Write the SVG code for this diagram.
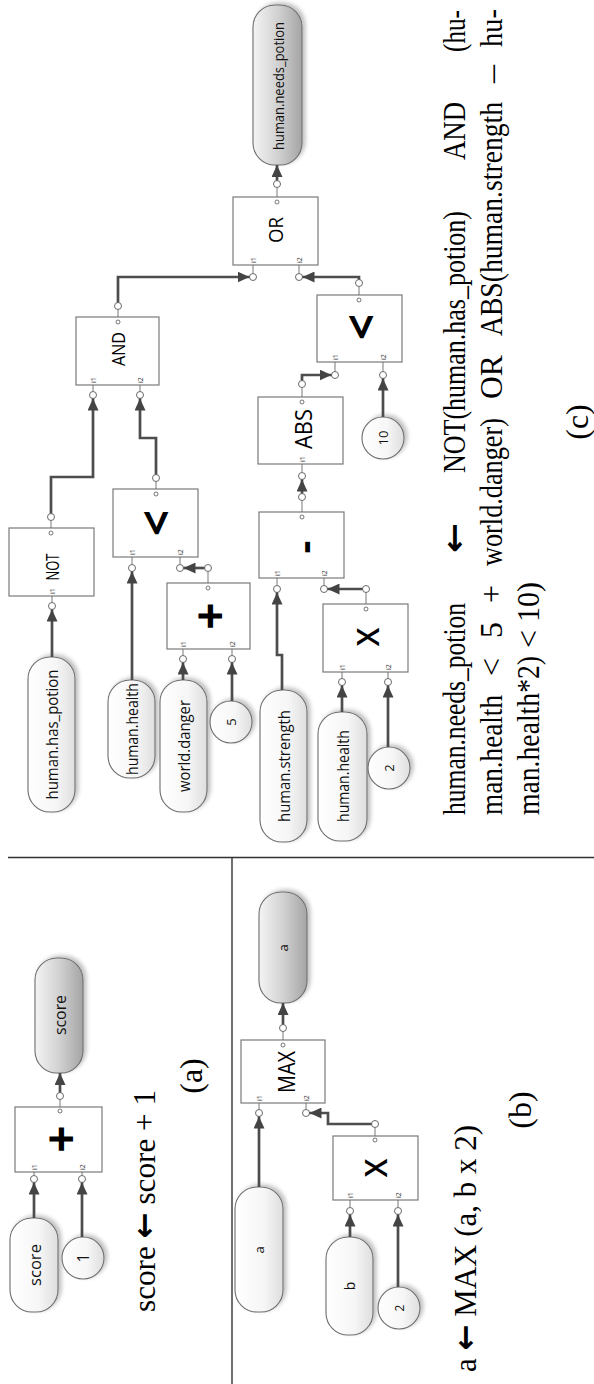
<svg xmlns="http://www.w3.org/2000/svg" width="594" height="1384" viewBox="0 0 594 1384">
  <style>
    .bg { fill: #ffffff; }
    .sep { stroke: #333333; stroke-width: 1.4; fill: none; }
    .box { fill: #ffffff; stroke: #7a7a7a; stroke-width: 1.2; }
    .pin { fill: url(#gIn); stroke: #6e6e6e; stroke-width: 1.1; filter: url(#sh); }
    .pout { fill: url(#gOut); stroke: #6e6e6e; stroke-width: 1.1; filter: url(#sh); }
    .cst { fill: url(#gIn); stroke: #6e6e6e; stroke-width: 1.1; filter: url(#sh); }
    .port { fill: #ffffff; stroke: #6a6a6a; stroke-width: 1; }
    .op { fill: #ffffff; stroke: #555555; stroke-width: 0.8; }
    .stub { stroke: #6a6a6a; stroke-width: 0.9; fill: none; }
    .wire { stroke: #4d4d4d; stroke-width: 2.7; fill: none; stroke-linejoin: miter; marker-end: url(#ah); }
    .lbl { font-family: "Open Sans", "DejaVu Sans", sans-serif; fill: #111111; text-anchor: middle; dominant-baseline: central; }
    .pl { font-family: "Open Sans", "DejaVu Sans", sans-serif; fill: #333333; font-size: 7px; dominant-baseline: central; }
    .op-sym { font-family: "Open Sans", "DejaVu Sans", sans-serif; fill: #000000; text-anchor: middle; dominant-baseline: central; }
    .f { font-family: "Liberation Serif", "Times New Roman", serif; font-size: 32px; fill: #000000; }
    .ar { font-family: "DejaVu Sans", sans-serif; font-weight: bold; }
  </style>
  <defs>
    <linearGradient id="gIn" x1="0" y1="0" x2="1" y2="0">
      <stop offset="0" stop-color="#ffffff"/>
      <stop offset="0.6" stop-color="#f6f6f6"/>
      <stop offset="1" stop-color="#dedede"/>
    </linearGradient>
    <linearGradient id="gOut" x1="0" y1="0" x2="1" y2="0">
      <stop offset="0" stop-color="#f4f4f4"/>
      <stop offset="0.5" stop-color="#d2d2d2"/>
      <stop offset="1" stop-color="#a4a4a4"/>
    </linearGradient>
    <filter id="sh" x="-30%" y="-30%" width="160%" height="160%">
      <feGaussianBlur in="SourceAlpha" stdDeviation="2"/>
      <feOffset dx="3" dy="-2" result="b"/>
      <feComponentTransfer><feFuncA type="linear" slope="0.25"/></feComponentTransfer>
      <feMerge><feMergeNode/><feMergeNode in="SourceGraphic"/></feMerge>
    </filter>
    <marker id="ah" markerWidth="13" markerHeight="11" refX="12" refY="5.5" orient="auto" markerUnits="userSpaceOnUse">
      <path d="M0,0 L12,5.5 L0,11 z" fill="#444444"/>
    </marker>
  </defs>

  <rect class="bg" x="0" y="0" width="594" height="1384"/>

  <!-- panel separators -->
  <g id="separators">
    <path class="sep" d="M8,857.5 H594"/>
    <path class="sep" d="M232,857.5 V1384"/>
  </g>

  <!-- ===== (a) score <- score + 1 ===== -->
  <g id="a_in_score">
    <rect class="pin" x="10" y="1218" width="48" height="94" rx="22"/>
    <text class="lbl" font-size="17" textLength="42" lengthAdjust="spacingAndGlyphs" transform="translate(34 1265) rotate(-90)">score</text>
  </g>
  <g id="a_const_1">
    <circle class="cst" cx="83" cy="1258" r="21"/>
    <text class="lbl" font-size="16" transform="translate(83 1258) rotate(-90)">1</text>
  </g>
  <g id="a_add">
    <rect class="box" x="15" y="1107" width="87" height="65"/>
    <text class="op-sym" font-size="48" font-weight="bold" transform="translate(59 1139) rotate(-90)">+</text>
    <text class="pl" transform="translate(34 1170) rotate(-90)">i1</text>
    <text class="pl" transform="translate(82 1170) rotate(-90)">i2</text>
    <path class="stub" d="M34,1172 V1175.5 M82,1172 V1175.5 M60,1107 V1099.5"/>
    <circle class="port" cx="34" cy="1179" r="3.5"/>
    <circle class="port" cx="82" cy="1179" r="3.5"/>
    <circle class="op" cx="60" cy="1111" r="2"/>
    <circle class="port" cx="60" cy="1096" r="3.5"/>
  </g>
  <g id="a_out_score">
    <rect class="pout" x="35" y="958" width="48" height="115" rx="22"/>
    <text class="lbl" font-size="17" textLength="40" lengthAdjust="spacingAndGlyphs" transform="translate(59 1015) rotate(-90)">score</text>
  </g>

  <!-- ===== (b) a <- MAX(a, b x 2) ===== -->
  <g id="b_in_a">
    <rect class="pin" x="235" y="1187" width="48" height="125" rx="22"/>
    <text class="lbl" font-size="13" transform="translate(259 1250) rotate(-90)">a</text>
  </g>
  <g id="b_max">
    <rect class="box" x="241" y="1040" width="84" height="63"/>
    <text class="op-sym" font-size="24" textLength="42" lengthAdjust="spacingAndGlyphs" transform="translate(285 1072) rotate(-90)">MAX</text>
    <text class="pl" transform="translate(259 1101) rotate(-90)">i1</text>
    <text class="pl" transform="translate(306 1101) rotate(-90)">i2</text>
    <path class="stub" d="M259,1103 V1109.5 M306,1103 V1109.5 M283,1040 V1031.5"/>
    <circle class="port" cx="259" cy="1113" r="3.5"/>
    <circle class="port" cx="306" cy="1113" r="3.5"/>
    <circle class="op" cx="283" cy="1045" r="2"/>
    <circle class="port" cx="283" cy="1028" r="3.5"/>
  </g>
  <g id="b_out_a">
    <rect class="pout" x="259" y="892" width="48" height="111" rx="22"/>
    <text class="lbl" font-size="13" transform="translate(283 948) rotate(-90)">a</text>
  </g>
  <g id="b_in_b">
    <rect class="pin" x="326" y="1237" width="47" height="98" rx="22"/>
    <text class="lbl" font-size="14" transform="translate(349.5 1286) rotate(-90)">b</text>
  </g>
  <g id="b_mul">
    <rect class="box" x="333" y="1136" width="85" height="64"/>
    <text class="op-sym" font-size="30" font-weight="600" transform="translate(375 1168) rotate(-90)">X</text>
    <text class="pl" transform="translate(350 1198) rotate(-90)">i1</text>
    <text class="pl" transform="translate(398 1198) rotate(-90)">i2</text>
    <path class="stub" d="M350,1200 V1207.5 M398,1200 V1207.5 M375,1136 V1127.5"/>
    <circle class="port" cx="350" cy="1211" r="3.5"/>
    <circle class="port" cx="398" cy="1211" r="3.5"/>
    <circle class="op" cx="375" cy="1140" r="2"/>
    <circle class="port" cx="375" cy="1124" r="3.5"/>
  </g>
  <g id="b_const_2">
    <circle class="cst" cx="399" cy="1308" r="21"/>
    <text class="lbl" font-size="12" transform="translate(399 1308) rotate(-90)">2</text>
  </g>

  <!-- ===== (c) human.needs_potion ===== -->
  <g id="c_has_potion">
    <rect class="pin" x="28" y="657" width="47" height="155" rx="22"/>
    <text class="lbl" font-size="17" textLength="130" lengthAdjust="spacingAndGlyphs" transform="translate(51.5 734.5) rotate(-90)">human.has_potion</text>
  </g>
  <g id="c_not">
    <rect class="box" x="9" y="528" width="85" height="68"/>
    <text class="op-sym" font-size="19" textLength="27" lengthAdjust="spacingAndGlyphs" transform="translate(52 567) rotate(-90)">NOT</text>
    <text class="pl" transform="translate(52 594) rotate(-90)">i1</text>
    <path class="stub" d="M52,596 V602.5 M51,528 V520.5"/>
    <circle class="port" cx="52" cy="606" r="3.5"/>
    <circle class="op" cx="51" cy="533" r="2"/>
    <circle class="port" cx="51" cy="517" r="3.5"/>
  </g>
  <g id="c_and">
    <rect class="box" x="76" y="317" width="83" height="68"/>
    <text class="op-sym" font-size="19" textLength="34" lengthAdjust="spacingAndGlyphs" transform="translate(118 349) rotate(-90)">AND</text>
    <text class="pl" transform="translate(93 383) rotate(-90)">i1</text>
    <text class="pl" transform="translate(140 383) rotate(-90)">i2</text>
    <path class="stub" d="M93,385 V391.5 M140,385 V391.5 M118,317 V309.5"/>
    <circle class="port" cx="93" cy="395" r="3.5"/>
    <circle class="port" cx="140" cy="395" r="3.5"/>
    <circle class="op" cx="118" cy="322" r="2"/>
    <circle class="port" cx="118" cy="306" r="3.5"/>
  </g>
  <g id="c_health_1">
    <rect class="pin" x="108" y="680" width="47" height="98" rx="22"/>
    <text class="lbl" font-size="16" textLength="92" lengthAdjust="spacingAndGlyphs" transform="translate(131.5 729) rotate(-90)">human.health</text>
  </g>
  <g id="c_lt_1">
    <rect class="box" x="113" y="489" width="85" height="68"/>
    <text class="op-sym" font-size="46" font-weight="bold" transform="translate(155 523) rotate(-90)">&lt;</text>
    <text class="pl" transform="translate(132 555) rotate(-90)">i1</text>
    <text class="pl" transform="translate(180 555) rotate(-90)">i2</text>
    <path class="stub" d="M132,557 V564.5 M180,557 V564.5 M156,489 V481.5"/>
    <circle class="port" cx="132" cy="568" r="3.5"/>
    <circle class="port" cx="180" cy="568" r="3.5"/>
    <circle class="op" cx="156" cy="494" r="2"/>
    <circle class="port" cx="156" cy="478" r="3.5"/>
  </g>
  <g id="c_danger">
    <rect class="pin" x="160" y="680" width="47" height="132" rx="22"/>
    <text class="lbl" font-size="16" textLength="92" lengthAdjust="spacingAndGlyphs" transform="translate(183.5 746) rotate(-90)">world.danger</text>
  </g>
  <g id="c_add">
    <rect class="box" x="167" y="583" width="83" height="66"/>
    <text class="op-sym" font-size="48" font-weight="bold" transform="translate(208 616) rotate(-90)">+</text>
    <text class="pl" transform="translate(183 647) rotate(-90)">i1</text>
    <text class="pl" transform="translate(232 647) rotate(-90)">i2</text>
    <path class="stub" d="M183,649 V655.5 M232,649 V655.5 M208,583 V571.5"/>
    <circle class="port" cx="183" cy="659" r="3.5"/>
    <circle class="port" cx="232" cy="659" r="3.5"/>
    <circle class="op" cx="208" cy="588" r="2"/>
    <circle class="port" cx="208" cy="568" r="3.5"/>
  </g>
  <g id="c_const_5">
    <circle class="cst" cx="231" cy="722" r="21"/>
    <text class="lbl" font-size="13" transform="translate(231 722) rotate(-90)">5</text>
  </g>
  <g id="c_strength">
    <rect class="pin" x="260" y="690" width="47" height="152" rx="22"/>
    <text class="lbl" font-size="17" textLength="112" lengthAdjust="spacingAndGlyphs" transform="translate(283.5 766) rotate(-90)">human.strength</text>
  </g>
  <g id="c_sub">
    <rect class="box" x="259" y="512" width="85" height="66"/>
    <text class="op-sym" font-size="40" font-weight="bold" transform="translate(302 547) rotate(-90)">-</text>
    <text class="pl" transform="translate(277 576) rotate(-90)">i1</text>
    <text class="pl" transform="translate(324 576) rotate(-90)">i2</text>
    <path class="stub" d="M277,578 V585.5 M324,578 V585.5 M302,512 V500.5"/>
    <circle class="port" cx="277" cy="589" r="3.5"/>
    <circle class="port" cx="324" cy="589" r="3.5"/>
    <circle class="op" cx="302" cy="517" r="2"/>
    <circle class="port" cx="302" cy="497" r="3.5"/>
  </g>
  <g id="c_abs">
    <rect class="box" x="258" y="397" width="85" height="67"/>
    <text class="op-sym" font-size="24" textLength="40" lengthAdjust="spacingAndGlyphs" transform="translate(302 429) rotate(-90)">ABS</text>
    <text class="pl" transform="translate(302 462) rotate(-90)">i1</text>
    <path class="stub" d="M302,464 V472.5 M302,397 V387.5"/>
    <circle class="port" cx="302" cy="476" r="3.5"/>
    <circle class="op" cx="302" cy="402" r="2"/>
    <circle class="port" cx="302" cy="384" r="3.5"/>
  </g>
  <g id="c_health_2">
    <rect class="pin" x="318" y="712" width="49" height="129" rx="22"/>
    <text class="lbl" font-size="16" textLength="92" lengthAdjust="spacingAndGlyphs" transform="translate(342.5 776) rotate(-90)">human.health</text>
  </g>
  <g id="c_mul">
    <rect class="box" x="323" y="604" width="85" height="68"/>
    <text class="op-sym" font-size="30" font-weight="600" transform="translate(367 637) rotate(-90)">X</text>
    <text class="pl" transform="translate(342 670) rotate(-90)">i1</text>
    <text class="pl" transform="translate(388 670) rotate(-90)">i2</text>
    <path class="stub" d="M342,672 V678.5 M388,672 V678.5 M366,604 V592.5"/>
    <circle class="port" cx="342" cy="682" r="3.5"/>
    <circle class="port" cx="388" cy="682" r="3.5"/>
    <circle class="op" cx="366" cy="609" r="2"/>
    <circle class="port" cx="366" cy="589" r="3.5"/>
  </g>
  <g id="c_const_2">
    <circle class="cst" cx="389" cy="768" r="21"/>
    <text class="lbl" font-size="13" transform="translate(389 768) rotate(-90)">2</text>
  </g>
  <g id="c_const_10">
    <circle class="cst" cx="383" cy="438" r="21"/>
    <text class="lbl" font-size="13" transform="translate(383 438) rotate(-90)">10</text>
  </g>
  <g id="c_lt_2">
    <rect class="box" x="317" y="295" width="85" height="67"/>
    <text class="op-sym" font-size="46" font-weight="bold" transform="translate(360 327) rotate(-90)">&lt;</text>
    <text class="pl" transform="translate(335 360) rotate(-90)">i1</text>
    <text class="pl" transform="translate(383 360) rotate(-90)">i2</text>
    <path class="stub" d="M335,362 V371.5 M383,362 V371.5 M359,295 V286.5"/>
    <circle class="port" cx="335" cy="375" r="3.5"/>
    <circle class="port" cx="383" cy="375" r="3.5"/>
    <circle class="op" cx="359" cy="300" r="2"/>
    <circle class="port" cx="359" cy="283" r="3.5"/>
  </g>
  <g id="c_or">
    <rect class="box" x="233" y="197" width="85" height="68"/>
    <text class="op-sym" font-size="20" textLength="26" lengthAdjust="spacingAndGlyphs" transform="translate(275 230) rotate(-90)">OR</text>
    <text class="pl" transform="translate(253 263) rotate(-90)">i1</text>
    <text class="pl" transform="translate(299 263) rotate(-90)">i2</text>
    <path class="stub" d="M253,265 V273.5 M299,265 V273.5 M277,197 V187.5"/>
    <circle class="port" cx="253" cy="277" r="3.5"/>
    <circle class="port" cx="299" cy="277" r="3.5"/>
    <circle class="op" cx="277" cy="202" r="2"/>
    <circle class="port" cx="277" cy="184" r="3.5"/>
  </g>
  <g id="c_needs_potion">
    <rect class="pout" x="253" y="5" width="49" height="160" rx="22"/>
    <text class="lbl" font-size="15" textLength="128" lengthAdjust="spacingAndGlyphs" transform="translate(277.5 86) rotate(-90)">human.needs_potion</text>
  </g>

  <!-- connectors -->
  <g id="connectors">
    <path class="wire" d="M34,1218 V1182.5"/>
    <path class="wire" d="M82,1237 V1182.5"/>
    <path class="wire" d="M60,1092.5 V1073"/>
    <path class="wire" d="M259,1187 V1116.5"/>
    <path class="wire" d="M283,1024.5 V1003"/>
    <path class="wire" d="M350,1237 V1214.5"/>
    <path class="wire" d="M398,1287 V1214.5"/>
    <path class="wire" d="M371.5,1124 H328 V1113 H309.5"/>
    <path class="wire" d="M52,657 V609.5"/>
    <path class="wire" d="M51,513.5 V477 H93 V398.5"/>
    <path class="wire" d="M132,680 V571.5"/>
    <path class="wire" d="M183,680 V662.5"/>
    <path class="wire" d="M232,701 V662.5"/>
    <path class="wire" d="M204.5,568 H183.5"/>
    <path class="wire" d="M156,474.5 V438 H140 V398.5"/>
    <path class="wire" d="M282,690 V655 H277 V592.5"/>
    <path class="wire" d="M342,712 V685.5"/>
    <path class="wire" d="M388,747 V685.5"/>
    <path class="wire" d="M362.5,589 H327.5"/>
    <path class="wire" d="M302,493.5 V479.5"/>
    <path class="wire" d="M302,380.5 V375 H331.5"/>
    <path class="wire" d="M383,417 V378.5"/>
    <path class="wire" d="M359,279.5 V277 H302.5"/>
    <path class="wire" d="M118,302.5 V277 H249.5"/>
    <path class="wire" d="M277,180.5 V165"/>
  </g>

  <!-- formulas and captions -->
  <g id="captions">
    <text class="f" textLength="222" lengthAdjust="spacingAndGlyphs" transform="translate(155 1312) rotate(-90)">score <tspan class="ar">←</tspan> score + 1</text>
    <text class="f" font-size="30" text-anchor="middle" transform="translate(202 1076) rotate(-90)">(a)</text>

    <text class="f" textLength="247" lengthAdjust="spacingAndGlyphs" transform="translate(476 1372) rotate(-90)">a <tspan class="ar">←</tspan> MAX (a, b x 2)</text>
    <text class="f" font-size="30" text-anchor="middle" transform="translate(531 1110) rotate(-90)">(b)</text>

    <text class="f" textLength="212" lengthAdjust="spacingAndGlyphs" transform="translate(465 815) rotate(-90)">human.needs_potion</text>
    <text class="f ar" textLength="30" lengthAdjust="spacingAndGlyphs" transform="translate(465 553) rotate(-90)">←</text>
    <text class="f" textLength="262" lengthAdjust="spacingAndGlyphs" transform="translate(465 473) rotate(-90)">NOT(human.has_potion)</text>
    <text class="f" textLength="58" lengthAdjust="spacingAndGlyphs" transform="translate(465 160) rotate(-90)">AND</text>
    <text class="f" textLength="42" lengthAdjust="spacingAndGlyphs" transform="translate(465 52) rotate(-90)">(hu-</text>

    <text class="f" textLength="120" lengthAdjust="spacingAndGlyphs" transform="translate(502 815) rotate(-90)">man.health</text>
    <text class="f" textLength="18" lengthAdjust="spacingAndGlyphs" transform="translate(502 676) rotate(-90)">&lt;</text>
    <text class="f" textLength="16" lengthAdjust="spacingAndGlyphs" transform="translate(502 638) rotate(-90)">5</text>
    <text class="f" textLength="18" lengthAdjust="spacingAndGlyphs" transform="translate(502 603) rotate(-90)">+</text>
    <text class="f" textLength="148" lengthAdjust="spacingAndGlyphs" transform="translate(502 566) rotate(-90)">world.danger)</text>
    <text class="f" textLength="44" lengthAdjust="spacingAndGlyphs" transform="translate(502 399) rotate(-90)">OR</text>
    <text class="f" textLength="234" lengthAdjust="spacingAndGlyphs" transform="translate(502 336) rotate(-90)">ABS(human.strength</text>
    <text class="f" textLength="18" lengthAdjust="spacingAndGlyphs" transform="translate(502 83) rotate(-90)">–</text>
    <text class="f" textLength="38" lengthAdjust="spacingAndGlyphs" transform="translate(502 47) rotate(-90)">hu-</text>

    <text class="f" textLength="159" lengthAdjust="spacingAndGlyphs" transform="translate(539 815) rotate(-90)">man.health*2)</text>
    <text class="f" textLength="18" lengthAdjust="spacingAndGlyphs" transform="translate(539 648) rotate(-90)">&lt;</text>
    <text class="f" textLength="40" lengthAdjust="spacingAndGlyphs" transform="translate(539 622) rotate(-90)">10)</text>

    <text class="f" font-size="30" text-anchor="middle" transform="translate(588 422) rotate(-90)">(c)</text>
  </g>
</svg>
